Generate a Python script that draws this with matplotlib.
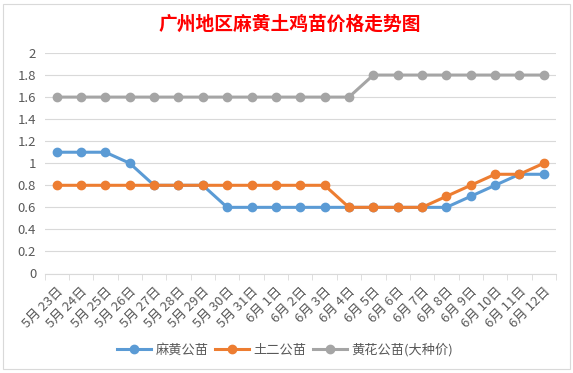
import matplotlib
matplotlib.use("Agg")
import numpy as np
from matplotlib import pyplot as plt
from matplotlib.patches import Rectangle

plt.rcParams['font.family'] = ['Noto Sans CJK SC', 'DejaVu Sans']

dates = ["5月 23日", "5月 24日", "5月 25日", "5月 26日", "5月 27日", "5月 28日", "5月 29日",
         "5月 30日", "5月 31日", "6月 1日", "6月 2日", "6月 3日", "6月 4日", "6月 5日",
         "6月 6日", "6月 7日", "6月 8日", "6月 9日", "6月 10日", "6月 11日", "6月 12日"]
mahuang = [1.1, 1.1, 1.1, 1.0, 0.8, 0.8, 0.8, 0.6, 0.6, 0.6, 0.6, 0.6, 0.6, 0.6,
           0.6, 0.6, 0.6, 0.7, 0.8, 0.9, 0.9]
tuer = [0.8, 0.8, 0.8, 0.8, 0.8, 0.8, 0.8, 0.8, 0.8, 0.8, 0.8, 0.8, 0.6, 0.6,
        0.6, 0.6, 0.7, 0.8, 0.9, 0.9, 1.0]
huanghua = [1.6, 1.6, 1.6, 1.6, 1.6, 1.6, 1.6, 1.6, 1.6, 1.6, 1.6, 1.6, 1.6, 1.8,
            1.8, 1.8, 1.8, 1.8, 1.8, 1.8, 1.8]
series_names = ["麻黄公苗", "土二公苗", "黄花公苗(大种价)"]
colors = ["#5B9BD5", "#ED7D31", "#A5A5A5"]

fig = plt.figure(figsize=(5.73, 3.73), dpi=100)
fig.patch.set_facecolor("white")
# chart area border
fig.patches.append(Rectangle((3 / 573, 4 / 373), 567 / 573, 365 / 373, transform=fig.transFigure,
                             fill=False, edgecolor="#D9D9D9", linewidth=0.8))

ax = fig.add_axes([44.5 / 573, 1 - 273.5 / 373, 511.5 / 573, 220.5 / 373])
x = np.arange(len(dates))

for vals, name, c in zip([mahuang, tuer, huanghua], series_names, colors):
    ax.plot(x, vals, color=c, linewidth=2.2, marker="o", markersize=6, label=name, zorder=3)

ax.set_xlim(-0.5, len(dates) - 0.5)
ax.set_ylim(0, 2)
ax.set_yticks(np.arange(0, 2.01, 0.2))
ax.set_yticklabels(["0", "0.2", "0.4", "0.6", "0.8", "1", "1.2", "1.4", "1.6", "1.8", "2"])
ax.grid(axis="y", color="#D9D9D9", linewidth=0.8)
ax.set_axisbelow(True)

ax.set_xticks(x)
ax.set_xticklabels(dates, rotation=45, ha="right", rotation_mode="anchor")
ax.set_xticks(np.arange(-0.5, len(dates), 1), minor=True)
ax.tick_params(axis="x", which="major", length=0, pad=8, labelsize=9.5, labelcolor="#595959")
ax.tick_params(axis="x", which="minor", length=4, color="#D9D9D9")
ax.tick_params(axis="y", length=0, pad=6, labelsize=9.5, labelcolor="#595959")

for s in ["top", "right", "left"]:
    ax.spines[s].set_visible(False)
ax.spines["bottom"].set_color("#D9D9D9")

fig.text(290 / 573, 1 - 24 / 373, "广州地区麻黄土鸡苗价格走势图", color="red", fontsize=13.5,
         fontweight="bold", ha="center", va="center")

fig.legend(loc="center", bbox_to_anchor=(285 / 573, 1 - 350 / 373), ncol=3, frameon=False,
           fontsize=9.5, handlelength=2.6, columnspacing=0.5, handletextpad=0.3,
           labelcolor="#595959")

fig.savefig("out.png", dpi=100)
